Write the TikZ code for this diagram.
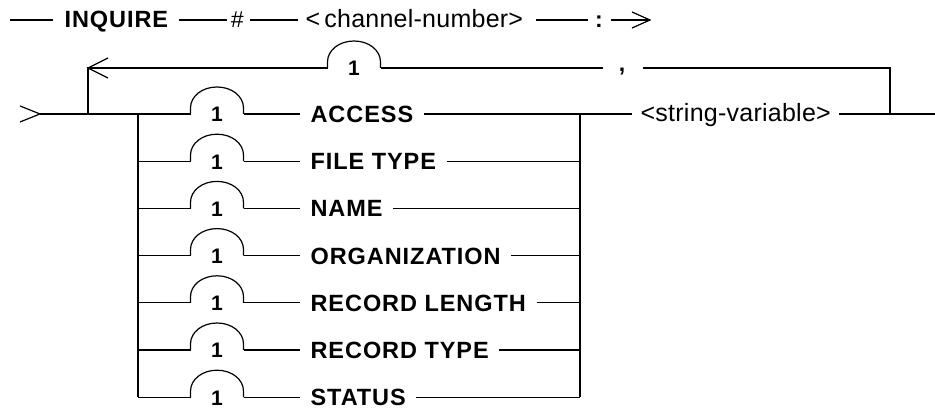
\documentclass[tikz,border=0pt]{standalone}
\usepackage{fontspec}
\setmainfont{Liberation Sans}
\newfontfamily\kwfont[LetterSpace=4]{Liberation Sans}
\newfontfamily\varfont[LetterSpace=1]{Liberation Sans}
\tikzset{
  kw/.style={font=\kwfont\fontsize{23.5}{26}\selectfont\bfseries,inner sep=0pt,anchor=base west},
  var/.style={font=\varfont\fontsize{25}{27}\selectfont,inner sep=0pt,anchor=base west},
  punct/.style={font=\fontsize{23}{25}\selectfont\bfseries,inner sep=0pt,anchor=base},
  onelab/.style={font=\fontsize{21}{23}\selectfont\bfseries,inner sep=0pt,anchor=base},
  bumpshape/.pic={\draw (-26.5,0) -- (-26.5,-6) .. controls (-26.5,-18) and (-14.6,-27) .. (0,-27) .. controls (14.6,-27) and (26.5,-18) .. (26.5,-6) -- (26.5,0);}
}
\begin{document}
\begin{tikzpicture}[x=1pt,y=-1pt,line width=1.2pt]
\useasboundingbox (0,0) rectangle (935,411);
% top row
\coordinate (t0) at (10,20);
\node[kw] (inq) at (64,28) {INQUIRE};
\node[punct,font=\fontsize{23}{25}\selectfont\itshape] (hash) at (237,28) {\#};
\node[var] (chan) at (305,28) {<\,channel-number>};
\node[punct] (colon) at (599,28) {:};
\coordinate (t1) at (650,20);
\draw (t0) -- ([xshift=-11pt]inq.west |- t0);
\draw ([xshift=10pt]inq.east |- t0) -- ([xshift=-3pt]hash.west |- t0);
\draw ([xshift=6pt]hash.east |- t0) -- ([xshift=-7pt]chan.west |- t0);
\draw ([xshift=12pt]chan.east |- t0) -- ([xshift=-7pt]colon.west |- t0);
\draw ([xshift=8pt]colon.east |- t0) -- (t1);
\draw ([shift={(-18,-8)}]t1) -- (t1) -- ([shift={(-18,8)}]t1);
% branch rows
\foreach \t [count=\k from 0] in {ACCESS,FILE TYPE,NAME,ORGANIZATION,RECORD LENGTH,RECORD TYPE,STATUS}{
  \pgfmathsetmacro\yy{114+47.2*\k}
  \coordinate (L\k) at (138,\yy);
  \coordinate (R\k) at (580,\yy);
  \coordinate (bs\k) at (190.5,\yy);
  \coordinate (be\k) at (243.5,\yy);
  \pic at (217,\yy) {bumpshape};
  \node[onelab] (one\k) at (217,\yy+8) {1};
  \node[kw] (lab\k) at (310,\yy+8.5) {\t};
  \draw (be\k) -- ([xshift=-10pt]lab\k.west |- be\k);
  \draw ([xshift=10pt]lab\k.east |- be\k) -- (R\k);
}
\foreach \k in {1,...,6}{\draw (L\k) -- (bs\k);}
\draw (L0) -- (L6);
\draw (R0) -- (R6);
% entry
\coordinate (in) at (40,114);
\draw ([shift={(-20,-8)}]in) -- (in) -- ([shift={(-20,8)}]in);
\draw (in) -- (bs0);
% string variable
\node[var] (sv) at (640,122) {<string-variable>};
\coordinate (out) at (935,114);
\coordinate (jR) at (890,114);
\draw (R0) -- ([xshift=-8pt]sv.west |- R0);
\draw ([xshift=8pt]sv.east |- R0) -- (out);
% loop
\coordinate (jL) at (88,114);
\coordinate (lp) at (88,68);
\coordinate (lr) at (890,68);
\coordinate (lbs) at (327.5,68);
\coordinate (lbe) at (380.5,68);
\pic at (354,68) {bumpshape};
\node[onelab] (one7) at (354,76) {1};
\node[punct] (comma) at (622,72) {,};
\draw (jL) -- (lp) -- (lbs);
\draw (lbe) -- ([xshift=-15pt]comma.west |- lp);
\draw ([xshift=17pt]comma.east |- lp) -- (lr) -- (jR);
\draw ([shift={(20,-10)}]lp) -- (lp) -- ([shift={(20,10)}]lp);
\end{tikzpicture}
\end{document}
